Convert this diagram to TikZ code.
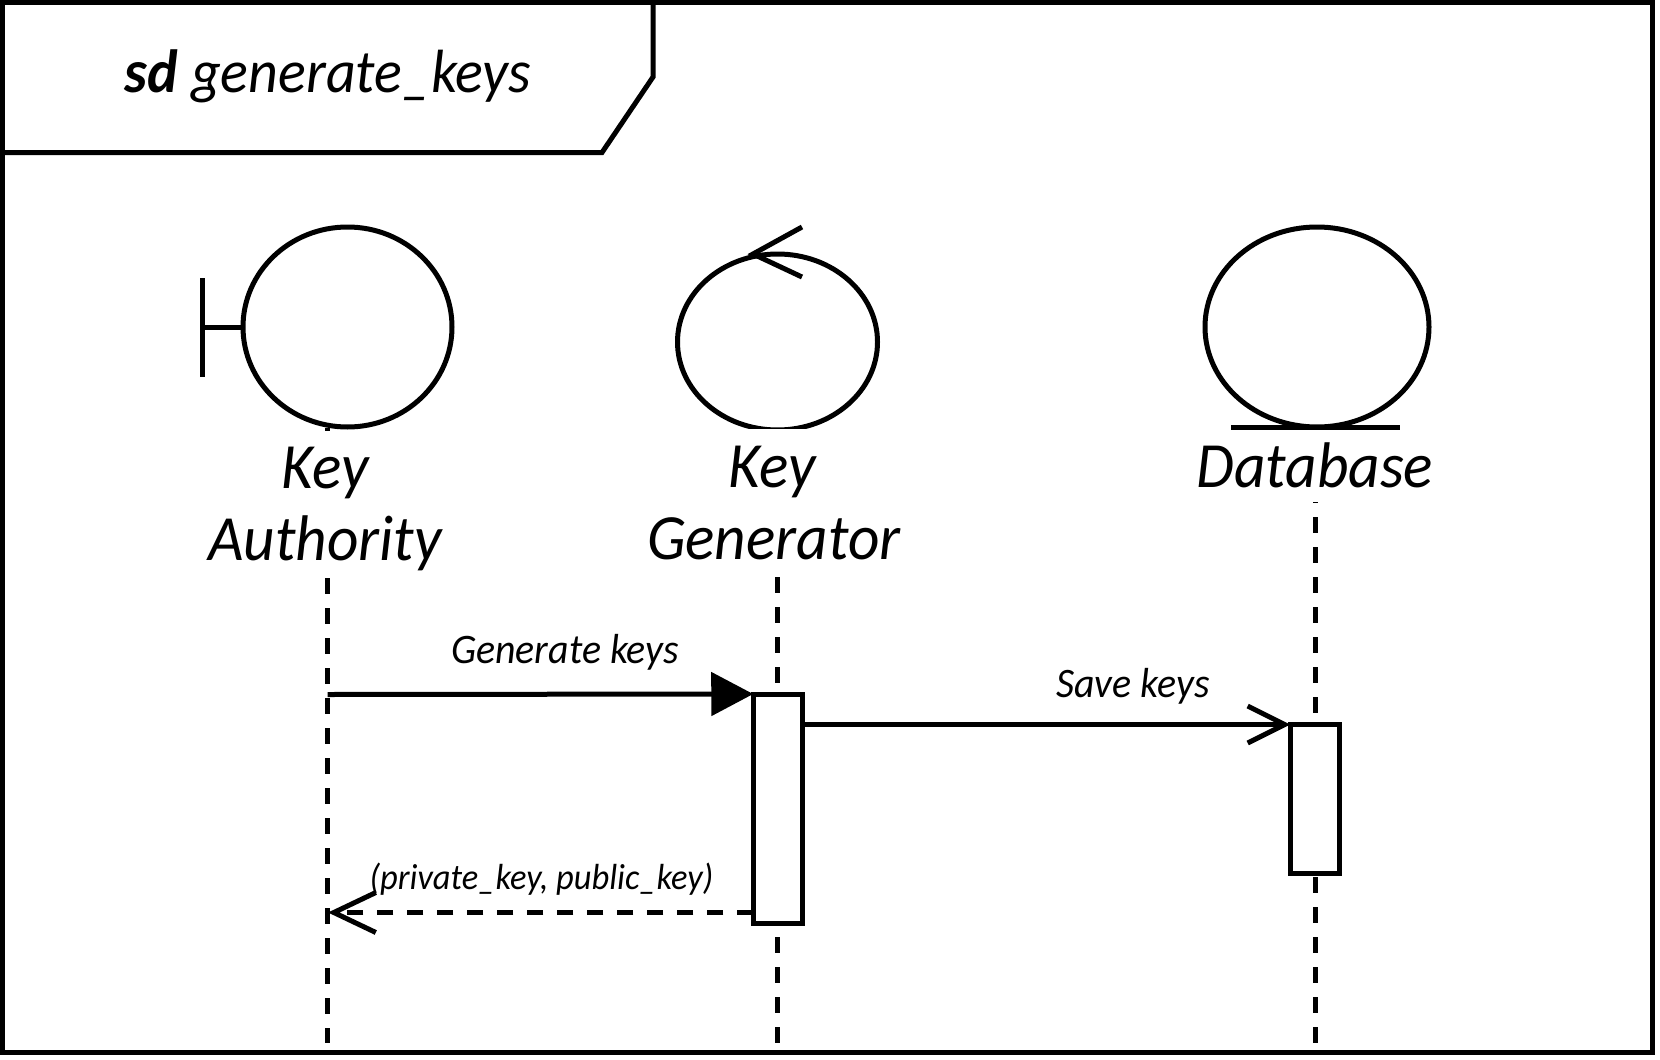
\documentclass[tikz,border=0pt]{standalone}
\usepackage{fontspec}
\setmainfont[FakeStretch=0.95]{Carlito}
\usetikzlibrary{arrows.meta,shapes.geometric}
\tikzset{
  x=1pt,y=-1pt,
  every node/.style={inner sep=0pt,outer sep=0pt},
  stroke/.style={draw=black,line width=5pt},
  actor/.style={stroke,ellipse,fill=white},
  lifeline/.style={black,line width=5pt,dash pattern=on 16pt off 14pt},
  activation/.style={stroke,fill=white,rectangle,minimum width=49.5pt},
  actorlabel/.style={fill=white,align=center,text width=250pt,font=\fontsize{64.5}{72}\selectfont\itshape},
  msglabel/.style={anchor=base,font=\fontsize{42}{48}\selectfont\itshape},
  sync/.style={line width=5pt,-{Triangle[length=42pt,width=43pt]}},
  async/.style={line width=5pt,-{Straight Barb[length=37pt,width=37pt,line width=5pt]}},
  reply/.style={line width=5pt,dash pattern=on 16pt off 14pt,-{Straight Barb[length=42pt,width=40pt,line width=5pt]}}
}
\begin{document}
\begin{tikzpicture}
\useasboundingbox (0,0) rectangle (1660,1060);
% frame
\draw[stroke] (2.5,2.5) rectangle (1652.5,1052.5);
\node[font=\fontsize{61}{70}\selectfont\itshape,anchor=base] (title) at (328,92.7) {\textbf{sd} generate\_keys};
\draw[stroke,line join=miter] (653,3) -- (653,77) -- (602,152.5) -- (3,152.5);
% lifelines
\coordinate (ka) at (327.5,428);
\coordinate (kaEnd) at (327.5,1043);
\coordinate (kg) at (777.5,427);
\coordinate (kgEnd) at (777.5,1043);
\coordinate (db) at (1315,427);
\coordinate (dbEnd) at (1315,1043);
\draw[lifeline] (ka) -- (kaEnd);
\draw[lifeline] (kg) -- (kgEnd);
\draw[lifeline] (db) -- (dbEnd);
% actors
\node[actor,minimum width=209pt,minimum height=200pt] (boundary) at (347.5,327) {};
\coordinate (barTop) at (202,278);
\coordinate (barBot) at (202,377);
\coordinate (barMid) at (202,327);
\draw[stroke] (barTop) -- (barBot);
\draw[stroke] (barMid) -- (boundary.west);
\node[actor,minimum width=200pt,minimum height=176pt] (control) at (777.5,342) {};
\coordinate (ctip) at (753,254);
\coordinate (cup) at (802,227);
\coordinate (cdown) at (802,277);
\draw[stroke] (cup) -- (ctip) -- (cdown);
\node[actor,minimum width=224pt,minimum height=200pt] (entity) at (1317,327) {};
\coordinate (entL) at (1231,427);
\coordinate (entR) at (1400,427);
\draw[stroke] (entL) -- (entR);
% labels
\node[actorlabel,minimum height=145pt] (lblA) at (325,503.5) {Key\\\smash{Authority}};
\node[actorlabel,minimum height=148pt] (lblG) at (772,503) {Key\\Generator};
\node[actorlabel,minimum height=72pt] (lblD) at (1315,465.5) {Database};
% activations
\node[activation,minimum height=229pt,anchor=north] (act1) at (778,694) {};
\node[activation,minimum height=149pt,anchor=north] (act2) at (1315,724.5) {};
% messages
\coordinate (m1s) at (327.5,694.5);
\coordinate (m3e) at (328,912.5);
\draw[sync] (m1s) -- (act1.north west);
\draw[async] (act1.east |- act2.north west) -- (act2.north west);
\draw[reply] (act1.west |- m3e) -- (m3e);
\node[msglabel] (l1) at (565,663) {Generate keys};
\node[msglabel] (l2) at (1133,697.5) {Save keys};
\node[msglabel,font=\fontsize{36.3}{44}\selectfont\itshape] (l3) at (541.5,889.5) {(private\_key, public\_key)};
\end{tikzpicture}
\end{document}
